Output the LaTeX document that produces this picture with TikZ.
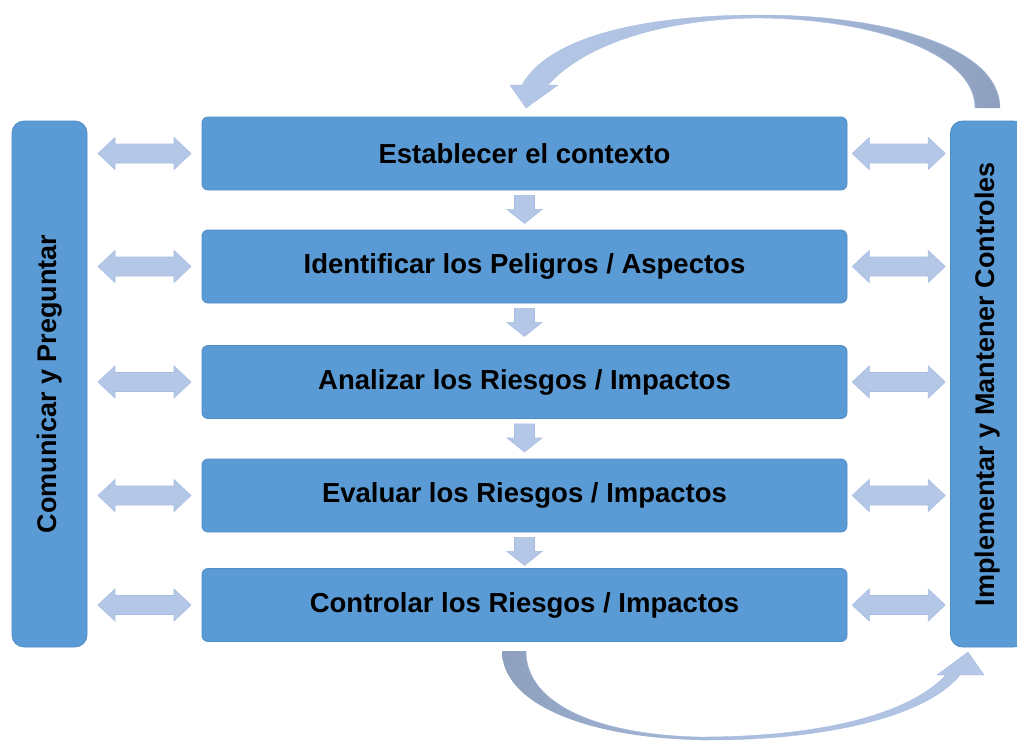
\documentclass[tikz,border=0pt]{standalone}
\usepackage{fontspec}
\setmainfont{Liberation Sans}
\usetikzlibrary{positioning}
\definecolor{boxblue}{HTML}{5B9BD5}
\definecolor{boxedge}{HTML}{4E8CC6}
\definecolor{arrlight}{HTML}{B4C7E7}
\definecolor{arredge}{HTML}{A7BCE2}
\definecolor{arrdark}{HTML}{8EA0BE}
\tikzset{
  x=1pt,y=-1pt,
  stepbox/.style={draw=boxedge,line width=0.8pt,fill=boxblue,rounded corners=6pt,
    minimum width=645pt,minimum height=73pt,inner sep=0pt,
    font=\fontsize{27.5}{32}\selectfont\bfseries,text=black},
  sidebox/.style={draw=boxedge,line width=0.8pt,fill=boxblue,rounded corners=12pt,
    minimum width=75pt,minimum height=526pt,inner sep=0pt},
  sidetext/.style={rotate=90,font=\fontsize{27}{32}\selectfont\bfseries,text=black},
  blockarrow/.style={fill=arrlight,draw=arredge,line width=0.6pt,line join=miter},
  pics/dblarrow/.style={code={
    \path[blockarrow] (-46.5,0) -- (-29.5,-16) -- (-29.5,-9.5) -- (29.5,-9.5) -- (29.5,-16)
      -- (46.5,0) -- (29.5,16) -- (29.5,9.5) -- (-29.5,9.5) -- (-29.5,16) -- cycle;}},
  pics/downarrow/.style={code={
    \path[blockarrow] (-10,0) -- (10,0) -- (10,14) -- (17.5,14) -- (0,28) -- (-17.5,14) -- (-10,14) -- cycle;}}
}
\begin{document}
\begin{tikzpicture}
\useasboundingbox (0,0) rectangle (1017,740);
% side boxes
\node[sidebox] (L) at (49.5,384) {};
\node[sidebox] (R) at (988,384) {};
\node[sidetext] (Lt) at (L.center) {Comunicar y Preguntar};
\node[sidetext] (Rt) at (R.center) {Implementar y Mantener Controles};
% step boxes
\node[stepbox] (s1) at (524.5,153.5) {Establecer el contexto};
\node[stepbox] (s2) at (524.5,266.5) {Identificar los Peligros / Aspectos};
\node[stepbox] (s3) at (524.5,382) {Analizar los Riesgos / Impactos};
\node[stepbox] (s4) at (524.5,495.5) {Evaluar los Riesgos / Impactos};
\node[stepbox] (s5) at (524.5,605) {Controlar los Riesgos / Impactos};
% double arrows
\foreach \s in {s1,s2,s3,s4,s5}{
  \path (L.east |- \s.center) -- (\s.west) pic[pos=0.5] {dblarrow};
  \path (\s.east) -- (R.west |- \s.center) pic[pos=0.5] {dblarrow};
}
% down arrows
\foreach \a/\b in {s1/s2,s2/s3,s3/s4,s4/s5}{
  \coordinate (d\a) at ([yshift=-5pt]\a.south);
  \path (d\a) pic {downarrow};
}
% top curved arrow (from right box back to first step)
\coordinate (th) at (526,108);
\shade[left color=arrlight,right color=arrdark,middle color=arrlight!80!arrdark]
  (1000,108) .. controls (1000,45) and (880,15) .. (760,15)
  .. controls (640,15) and (548,38) .. (522,85)
  -- (510,85) -- (th) -- (558,85) -- (548,85)
  .. controls (590,38) and (680,18) .. (760,18)
  .. controls (870,19) and (975,52) .. (975,108) -- cycle;
\draw[arredge,line width=0.4pt]
  (1000,108) .. controls (1000,45) and (880,15) .. (760,15)
  .. controls (640,15) and (548,38) .. (522,85)
  -- (510,85) -- (th) -- (558,85) -- (548,85)
  .. controls (590,38) and (680,18) .. (760,18)
  .. controls (870,19) and (975,52) .. (975,108);
% bottom curved arrow (from last step to right box)
\coordinate (bh) at (968,652);
\shade[left color=arrdark,right color=arrlight,middle color=arrlight!75!arrdark]
  (502,651) .. controls (502,705) and (590,738) .. (700,740)
  .. controls (820,741) and (925,718) .. (960,675)
  -- (984,675) -- (bh) -- (937,675) -- (946,675)
  .. controls (905,718) and (810,737) .. (700,737)
  .. controls (600,735) and (526,705) .. (526,651) -- cycle;
\draw[arredge,line width=0.4pt]
  (526,651) .. controls (526,705) and (600,735) .. (700,737)
  .. controls (810,737) and (905,718) .. (946,675)
  -- (937,675) -- (bh) -- (984,675) -- (960,675)
  .. controls (925,718) and (820,741) .. (700,740);
\end{tikzpicture}
\end{document}
